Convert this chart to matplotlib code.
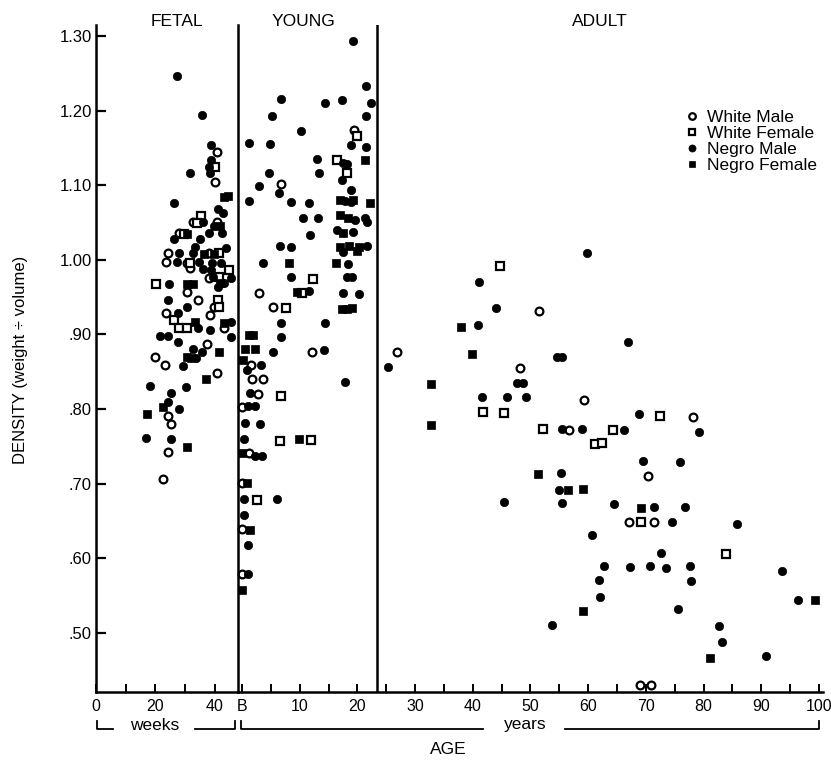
import matplotlib
matplotlib.use("Agg")
import matplotlib.pyplot as plt
from matplotlib.lines import Line2D
import numpy as np

plt.rcParams['font.family'] = ['Liberation Sans', 'DejaVu Sans']

# Fetal period: age in weeks, density, group
fetal_weeks = [27.1, 35.6, 38.6, 40.7, 38.6, 31.5, 40.0, 38.0, 38.3, 40.0,
               26.1, 43.1, 44.4, 41.0, 42.7, 35.3, 32.5, 33.9, 35.9, 40.7,
               39.7, 41.7, 38.0, 42.4, 27.8, 29.5, 30.8, 26.1, 34.9, 33.2,
               43.7, 24.1, 27.8, 32.5, 36.3, 38.0, 39.7, 41.4, 23.4, 27.1,
               30.5, 31.5, 34.6, 39.0, 42.0, 31.5, 35.9, 38.6, 44.7, 38.0,
               39.3, 41.4, 45.4, 20.3, 24.7, 30.8, 32.5, 41.7, 43.1, 41.0,
               30.5, 24.4, 34.2, 41.0, 30.8, 39.7, 41.4, 23.7, 27.5, 38.3,
               26.4, 33.2, 43.1, 45.4, 28.1, 30.8, 34.2, 38.3, 43.1, 21.4,
               24.4, 27.5, 45.4, 32.5, 35.6, 37.3, 41.4, 20.0, 30.5, 31.9,
               33.6, 23.1, 29.2, 40.7, 36.9, 18.3, 30.2, 25.1, 24.4, 22.4,
               27.8, 17.3, 24.1, 25.1, 16.9, 25.1, 30.5, 24.1, 22.4]
fetal_density = [1.246, 1.194, 1.154, 1.145, 1.134, 1.116, 1.124, 1.124, 1.116, 1.104,
                 1.076, 1.084, 1.086, 1.068, 1.063, 1.059, 1.051, 1.050, 1.051, 1.051,
                 1.045, 1.046, 1.036, 1.036, 1.036, 1.034, 1.034, 1.028, 1.028, 1.017,
                 1.016, 1.009, 1.009, 1.009, 1.008, 1.009, 1.008, 1.009, 0.997, 0.997,
                 0.996, 0.996, 0.997, 0.996, 0.996, 0.989, 0.988, 0.986, 0.986, 0.976,
                 0.977, 0.977, 0.976, 0.968, 0.968, 0.968, 0.968, 0.969, 0.969, 0.964,
                 0.957, 0.946, 0.946, 0.946, 0.937, 0.937, 0.937, 0.929, 0.929, 0.926,
                 0.919, 0.917, 0.916, 0.917, 0.909, 0.909, 0.908, 0.906, 0.908, 0.898,
                 0.898, 0.890, 0.896, 0.880, 0.876, 0.887, 0.877, 0.870, 0.870, 0.869,
                 0.869, 0.859, 0.858, 0.848, 0.840, 0.831, 0.830, 0.822, 0.809, 0.803,
                 0.800, 0.793, 0.791, 0.780, 0.761, 0.760, 0.749, 0.742, 0.706]
fetal_group = """NM NM NM WM NM NM WF NM NM WM
NM NF NF NM NM WF WM WF NM WM
NM NF NM NM WM WF NF NM NM NM
NM WM NM NM NF WM NF WF WM NM
WM WF NM NM NM WM NM NM WF WM
NM WF NM WF NM NF NF NF NM NM
WM NM WM WF NM WM WF WM NM WM
WF NF NF NM WF WF NM NM WM NM
NM NM NM NM NM WM NF WM NF NF
NM WM NM WM NF NM NM NM NM NF
NM NF WM WM NM NM NF WM WM""".split()

# Young and adult: age in years, density, group
young_years = [19.2, 21.5, 6.8, 14.4, 17.3, 22.4, 5.2, 21.5, 10.2, 19.4,
               19.9, 1.2, 4.9, 18.9, 21.5, 13.0, 16.5, 17.5, 18.2, 21.3,
               4.7, 13.3, 18.2, 17.3, 2.9, 6.8, 6.4, 18.9, 1.2, 8.5,
               11.6, 17.0, 17.9, 18.9, 19.2, 22.2, 10.6, 13.2, 17.0, 18.4,
               19.6, 21.3, 21.7, 11.8, 16.5, 17.5, 19.2, 6.6, 8.5, 17.0,
               18.5, 20.3, 21.7, 17.5, 19.9, 3.6, 8.1, 16.3, 18.4, 8.5,
               12.3, 18.2, 19.1, 2.9, 9.5, 10.4, 11.6, 17.5, 20.3, 5.4,
               7.6, 17.3, 18.2, 19.1, 6.8, 14.4, 1.2, 1.9, 6.8, 0.5,
               2.3, 5.4, 12.1, 14.2, 0.2, 1.6, 3.3, 0.9, 1.7, 3.6,
               17.9, 1.4, 2.8, 6.8, 0.0, 1.0, 2.3, 0.5, 3.1, 0.3,
               6.6, 9.9, 12.0, 0.0, 1.2, 2.3, 3.5, 0.0, 0.9, 0.3,
               2.6, 6.1, 0.3, 0.0, 1.4, 1.0, 0.0, 1.0, 0.0]
young_density = [1.293, 1.233, 1.216, 1.210, 1.214, 1.210, 1.193, 1.193, 1.173, 1.174,
                 1.166, 1.157, 1.155, 1.154, 1.151, 1.135, 1.134, 1.130, 1.128, 1.134,
                 1.116, 1.116, 1.116, 1.107, 1.099, 1.102, 1.090, 1.094, 1.079, 1.077,
                 1.076, 1.080, 1.079, 1.077, 1.080, 1.076, 1.056, 1.056, 1.060, 1.056,
                 1.053, 1.056, 1.051, 1.033, 1.040, 1.036, 1.037, 1.019, 1.017, 1.017,
                 1.019, 1.017, 1.019, 1.010, 1.012, 0.996, 0.996, 0.996, 0.994, 0.977,
                 0.974, 0.977, 0.977, 0.955, 0.957, 0.955, 0.958, 0.955, 0.954, 0.937,
                 0.935, 0.934, 0.934, 0.935, 0.915, 0.915, 0.899, 0.899, 0.897, 0.880,
                 0.880, 0.876, 0.876, 0.879, 0.866, 0.859, 0.859, 0.852, 0.840, 0.840,
                 0.836, 0.822, 0.820, 0.817, 0.803, 0.804, 0.804, 0.781, 0.780, 0.760,
                 0.757, 0.760, 0.759, 0.741, 0.741, 0.737, 0.737, 0.701, 0.701, 0.679,
                 0.678, 0.679, 0.658, 0.639, 0.638, 0.618, 0.579, 0.579, 0.557]
young_group = """NM NM NM NM NM NM NM NM NM WM
WF NM NM NM NM NM WF NM NM NF
NM NM WF NM NM WM NM NM NM NM
NM NF NM NM NF NF NM NM NF NF
NM NM NM NM NM NF NM NM NM NF
NF NF NM NM NF NM NF NF NM NM
WF NM NM WM NF WF NM NM NM WM
WF NF NF NF NM NM NF NF NM NF
NF NM WM NM NF WM NM NM WM WM
NM NM WM WF WM NM NM NM NM NM
WF NF WF NF WM NM NM WM NF NM
WF NM NM WM NF NM WM NM NF""".split()

adult_years = [59.8, 44.7, 41.1, 44.0, 51.5, 38.0, 40.9, 26.9, 25.3, 39.9,
               54.6, 55.5, 48.2, 66.9, 32.8, 47.7, 48.7, 41.6, 45.9, 49.2,
               59.3, 41.8, 45.4, 68.8, 72.4, 78.2, 32.8, 52.2, 55.5, 56.7,
               58.9, 64.3, 66.2, 79.2, 61.2, 62.4, 69.5, 75.9, 70.4, 51.3,
               55.3, 54.9, 56.5, 59.1, 45.4, 55.5, 64.5, 69.2, 71.4, 76.8,
               67.1, 69.2, 71.4, 74.5, 85.8, 60.7, 83.9, 72.6, 62.7, 67.2,
               70.7, 73.5, 77.6, 93.6, 61.9, 77.8, 62.0, 96.4, 99.3, 59.1,
               75.6, 53.7, 82.7, 83.2, 81.1, 90.8, 69.0, 70.9]
adult_density = [1.009, 0.992, 0.970, 0.935, 0.931, 0.910, 0.913, 0.876, 0.856, 0.874,
                 0.870, 0.870, 0.855, 0.890, 0.834, 0.835, 0.835, 0.816, 0.816, 0.816,
                 0.812, 0.796, 0.795, 0.793, 0.791, 0.789, 0.779, 0.773, 0.773, 0.772,
                 0.773, 0.772, 0.772, 0.769, 0.753, 0.754, 0.730, 0.729, 0.710, 0.713,
                 0.714, 0.691, 0.691, 0.693, 0.675, 0.674, 0.673, 0.667, 0.669, 0.669,
                 0.649, 0.649, 0.649, 0.649, 0.646, 0.631, 0.606, 0.607, 0.590, 0.588,
                 0.590, 0.587, 0.590, 0.583, 0.571, 0.570, 0.548, 0.544, 0.544, 0.529,
                 0.532, 0.510, 0.509, 0.488, 0.466, 0.469, 0.430, 0.430]
adult_group = """NM WF NM NM WM NF NM WM NM NF
NM NM WM NM NF NM NM NM NM NM
WM WF WF NM WF WM NF WF NM WM
NM WF NM NM WF WF NM NM WM NF
NM NM NF NF NM NM NM NF NM NM
WM WF WM NM NM NM WF NM NM NM
NM NM NM NM NM NM NM NM NF NF
NM NM NM NM NF NM WM WM""".split()

groups = ["WM", "WF", "NM", "NF"]
group_names = ["White Male", "White Female", "Negro Male", "Negro Female"]
y_ticks = [0.50, 0.60, 0.70, 0.80, 0.90, 1.00, 1.10, 1.20, 1.30]
y_ticklabels = [".50", ".60", ".70", ".80", ".90", "1.00", "1.10", "1.20", "1.30"]
adult_start = 23.4  # years, where the adult panel begins

styles = {
    "WM": dict(marker="o", mfc="white", mec="black", ms=5.6, mew=1.6),
    "WF": dict(marker="s", mfc="white", mec="black", ms=5.2, mew=1.6),
    "NM": dict(marker="o", mfc="black", mec="black", ms=6.0, mew=0.5),
    "NF": dict(marker="s", mfc="black", mec="black", ms=5.4, mew=0.5),
}

W, H = 831, 777
def fx(px):
    return px / W
def fy(py):
    return 1 - py / H

fig = plt.figure(figsize=(W / 100, H / 100), dpi=100)
ax_f = fig.add_axes([fx(96), fy(692), fx(238) - fx(96), fy(25) - fy(692)])
ax_y = fig.add_axes([fx(238), fy(692), fx(823) - fx(238), fy(25) - fy(692)])

ylim = (0.4207, 1.3148)
lw = 1.8

def plot_groups(ax, xs, ds, gs):
    xs = np.array(xs); ds = np.array(ds); gs = np.array(gs)
    handles = []
    for g, name in zip(groups, group_names):
        m = gs == g
        h, = ax.plot(xs[m], ds[m], ls="none", clip_on=False, label=name, **styles[g])
        handles.append(h)
    return handles

plot_groups(ax_f, fetal_weeks, fetal_density, fetal_group)
plot_groups(ax_y, young_years, young_density, young_group)
handles = plot_groups(ax_y, adult_years, adult_density, adult_group)

for ax in (ax_f, ax_y):
    ax.set_ylim(*ylim)
    ax.spines["top"].set_visible(False)
    ax.spines["right"].set_visible(False)
    ax.spines["left"].set_linewidth(lw)
    ax.spines["bottom"].set_linewidth(lw)
    ax.patch.set_alpha(0)

ax_f.set_xlim(0, 47.8)
ax_y.set_xlim(-0.69, 100.7)

ax_f.set_yticks(y_ticks)
ax_f.set_yticklabels(y_ticklabels)
ax_f.tick_params(axis="y", direction="in", length=7, width=1.6, pad=3, labelsize=12)
ax_y.tick_params(axis="y", left=False, labelleft=False)

ax_f.set_xticks([0, 10, 20, 30, 40])
ax_f.set_xticklabels(["0", "", "20", "", "40"])
yr_ticks = list(range(0, 101, 5))
ax_y.set_xticks(yr_ticks)
ax_y.set_xticklabels(["B" if t == 0 else (str(t) if t % 10 == 0 else "") for t in yr_ticks])
for ax in (ax_f, ax_y):
    ax.tick_params(axis="x", direction="in", length=6, width=1.4, pad=5, labelsize=11.5)

ax_y.axvline(adult_start, color="black", lw=lw)

# panel titles
fig.text(fx(177), fy(22), "FETAL", ha="center", va="center", fontsize=12.5)
fig.text(fx(303), fy(22), "YOUNG", ha="center", va="center", fontsize=12.5)
fig.text(fx(600), fy(22), "ADULT", ha="center", va="center", fontsize=12.5)

fig.text(fx(21), fy(360), "DENSITY (weight \u00f7 volume)", rotation=90,
         ha="center", va="center", fontsize=12)
fig.text(fx(448), fy(749), "AGE", ha="center", va="center", fontsize=12.5)

# brackets under the x axis
def bracket(pts):
    xs = [fx(p[0]) for p in pts]
    ys = [fy(p[1]) for p in pts]
    fig.add_artist(Line2D(xs, ys, color="black", lw=1.3, transform=fig.transFigure))

bracket([(97, 721), (97, 729), (113, 729)])
bracket([(195, 729), (235, 729), (235, 721)])
bracket([(241, 721), (241, 729), (483, 729)])
bracket([(565, 729), (819, 729), (819, 721)])
fig.text(fx(155), fy(725), "weeks", ha="center", va="center", fontsize=12.5)
fig.text(fx(525), fy(725), "years", ha="center", va="center", fontsize=12.5)

ax_y.legend(handles=handles, loc="upper left", bbox_to_anchor=(fx(686), fy(110)),
            bbox_transform=fig.transFigure, frameon=False, fontsize=12.5,
            handlelength=0.7, handletextpad=0.5, borderpad=0, borderaxespad=0,
            labelspacing=0.05, markerscale=0.85)

fig.savefig("out.png", dpi=100)
